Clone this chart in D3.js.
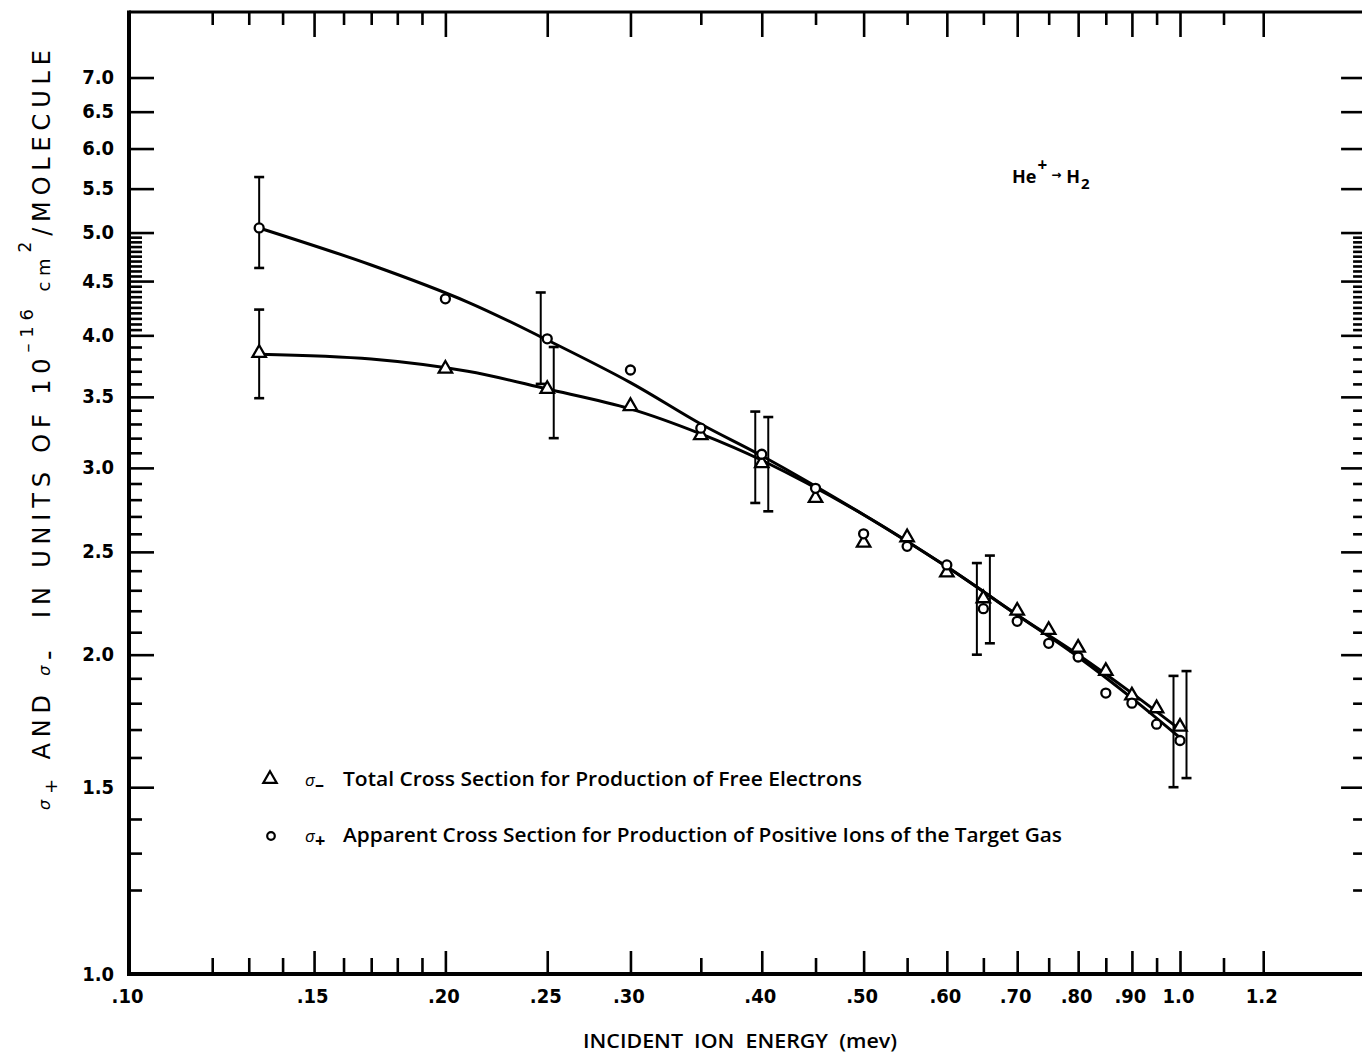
<!DOCTYPE html>
<html>
<head>
<meta charset="utf-8">
<script src="https://cdn.jsdelivr.net/npm/d3@7"></script>
<style>
  html, body { margin: 0; padding: 0; background: #fff; }
  svg { display: block; }
</style>
</head>
<body>
<svg id="chart" width="1362" height="1055"></svg>
<script>
// ---------------- DATA ----------------
const energy      = [0.133, 0.20, 0.25, 0.30, 0.35, 0.40, 0.45, 0.50, 0.55, 0.60, 0.65, 0.70, 0.75, 0.80, 0.85, 0.90, 0.95, 1.0];
const sigmaMinus  = [3.85, 3.72, 3.56, 3.43, 3.22, 3.03, 2.81, 2.55, 2.58, 2.39, 2.26, 2.20, 2.11, 2.03, 1.93, 1.83, 1.78, 1.71];
const sigmaPlus   = [5.05, 4.33, 3.97, 3.71, 3.27, 3.09, 2.87, 2.60, 2.53, 2.43, 2.21, 2.15, 2.05, 1.99, 1.84, 1.80, 1.72, 1.66];

const errEnergy    = [0.133, 0.25, 0.40, 0.65, 1.0];
const errPlusLow   = [4.63, 3.60, 2.78, 2.00, 1.50];
const errPlusHigh  = [5.64, 4.39, 3.39, 2.44, 1.91];
const errMinusLow  = [3.49, 3.20, 2.73, 2.05, 1.53];
const errMinusHigh = [4.23, 3.90, 3.35, 2.48, 1.93];

const curveEnergy = [0.133, 0.17, 0.21, 0.25, 0.30, 0.35, 0.40, 0.50, 0.60, 0.70, 0.80, 0.90, 1.0];
const curvePlus   = [5.05, 4.66, 4.30, 3.96, 3.61, 3.30, 3.08, 2.71, 2.42, 2.18, 1.99, 1.82, 1.67];
const curveMinus  = [3.84, 3.80, 3.70, 3.56, 3.41, 3.23, 3.05, 2.71, 2.42, 2.18, 2.00, 1.84, 1.70];

const xMajorTicks = [0.10, 0.15, 0.20, 0.25, 0.30, 0.40, 0.50, 0.60, 0.70, 0.80, 0.90, 1.0, 1.2];
const xTickLabels = [".10", ".15", ".20", ".25", ".30", ".40", ".50", ".60", ".70", ".80", ".90", "1.0", "1.2"];
const xMinorTicks = [0.12, 0.13, 0.14, 0.16, 0.17, 0.18, 0.19, 0.35, 0.45, 0.55, 0.65, 0.75, 0.85, 0.95, 1.1];

const yMajorTicks = [1.0, 1.5, 2.0, 2.5, 3.0, 3.5, 4.0, 4.5, 5.0, 5.5, 6.0, 6.5, 7.0];
const yTickLabels = ["1.0", "1.5", "2.0", "2.5", "3.0", "3.5", "4.0", "4.5", "5.0", "5.5", "6.0", "6.5", "7.0"];
const yMinorTicks = [1.2, 1.3, 1.4, 1.6, 1.7, 1.8, 1.9, 2.1, 2.2, 2.3, 2.4, 2.6, 2.7, 2.8, 2.9,
                     3.1, 3.2, 3.3, 3.4, 3.6, 3.7, 3.8, 3.9,
                     4.05, 4.1, 4.15, 4.2, 4.25, 4.3, 4.35, 4.4, 4.45, 4.55, 4.6, 4.65, 4.7, 4.75, 4.8, 4.85, 4.9, 4.95];

const legendLabels = ["Total Cross Section for Production of Free Electrons",
                      "Apparent Cross Section for Production of Positive Ions of the Target Gas"];

// ---------------- LAYOUT ----------------
const svg = d3.select("#chart");
const L = 129, T = 12, B = 974;
const x = d3.scaleLog().domain([0.1, 1.5]).range([L, L + 1051 * Math.log10(15)]);
const y = d3.scaleLog().domain([1, 8.07]).range([B, T]);
const R = x(1.5);

const tickFont = "'DejaVu Sans Condensed', 'DejaVu Sans', sans-serif";
const textFont = "'Open Sans', 'DejaVu Sans', sans-serif";
const NB = "\u00A0";

function styleAxis(g) {
  g.select(".domain").remove();
  g.selectAll(".tick line").attr("stroke", "#000").attr("stroke-width", 2.6);
  g.selectAll(".tick text").attr("fill", "#000").attr("font-family", tickFont)
    .attr("font-weight", "bold").attr("font-size", 20);
}

// bottom axis
svg.append("g").attr("transform", `translate(0,${B})`)
  .call(d3.axisBottom(x).tickValues(xMajorTicks).tickSize(-23).tickPadding(15)
    .tickFormat((d, i) => xTickLabels[i]))
  .call(styleAxis)
  .call(g => g.selectAll(".tick text").attr("dx", -2));
svg.append("g").attr("transform", `translate(0,${B})`)
  .call(d3.axisBottom(x).tickValues(xMinorTicks).tickSize(-16).tickFormat(""))
  .call(styleAxis);

// top axis
svg.append("g").attr("transform", `translate(0,${T})`)
  .call(d3.axisTop(x).tickValues(xMajorTicks.filter(v => v > 0.1)).tickSize(-25).tickFormat(""))
  .call(styleAxis);
svg.append("g").attr("transform", `translate(0,${T})`)
  .call(d3.axisTop(x).tickValues(xMinorTicks).tickSize(-13).tickFormat(""))
  .call(styleAxis);

// left axis
svg.append("g").attr("transform", `translate(${L},0)`)
  .call(d3.axisLeft(y).tickValues(yMajorTicks).tickSize(-25).tickPadding(15)
    .tickFormat((d, i) => yTickLabels[i]))
  .call(styleAxis)
  .call(g => g.selectAll(".tick text").attr("dy", "0.3em"));
svg.append("g").attr("transform", `translate(${L},0)`)
  .call(d3.axisLeft(y).tickValues(yMinorTicks).tickSize(-13).tickFormat(""))
  .call(styleAxis);

// right axis
svg.append("g").attr("transform", `translate(${R},0)`)
  .call(d3.axisRight(y).tickValues(yMajorTicks.filter(v => v > 1)).tickSize(-24).tickFormat(""))
  .call(styleAxis);
svg.append("g").attr("transform", `translate(${R},0)`)
  .call(d3.axisRight(y).tickValues(yMinorTicks).tickSize(-12).tickFormat(""))
  .call(styleAxis);

// frame
svg.append("line").attr("x1", L).attr("x2", R).attr("y1", T).attr("y2", T).attr("stroke", "#000").attr("stroke-width", 3.2);
svg.append("line").attr("x1", L).attr("x2", R).attr("y1", B).attr("y2", B).attr("stroke", "#000").attr("stroke-width", 4);
svg.append("line").attr("x1", L).attr("x2", L).attr("y1", T - 1.5).attr("y2", B + 2).attr("stroke", "#000").attr("stroke-width", 4);
svg.append("line").attr("x1", R).attr("x2", R).attr("y1", T).attr("y2", B).attr("stroke", "#000").attr("stroke-width", 4);

// curves
const line = d3.line().x(d => x(d[0])).y(d => y(d[1])).curve(d3.curveCatmullRom.alpha(0.5));
svg.append("path").datum(curveEnergy.map((e, i) => [e, curveMinus[i]]))
  .attr("d", line).attr("fill", "none").attr("stroke", "#000").attr("stroke-width", 3);
svg.append("path").datum(curveEnergy.map((e, i) => [e, curvePlus[i]]))
  .attr("d", line).attr("fill", "none").attr("stroke", "#000").attr("stroke-width", 3);

// error bars
const capW = 5;
function drawBar(e, lo, hi, dx) {
  const g = svg.append("g").attr("stroke", "#000").attr("stroke-width", 2);
  const xx = x(e) + dx;
  g.append("line").attr("x1", xx).attr("x2", xx).attr("y1", y(lo)).attr("y2", y(hi));
  g.append("line").attr("x1", xx - capW).attr("x2", xx + capW).attr("y1", y(lo)).attr("y2", y(lo)).attr("stroke-width", 2.6);
  g.append("line").attr("x1", xx - capW).attr("x2", xx + capW).attr("y1", y(hi)).attr("y2", y(hi)).attr("stroke-width", 2.6);
}
errEnergy.forEach((e, i) => {
  const overlap = errPlusLow[i] < errMinusHigh[i];
  const off = overlap ? 6.5 : 0;
  drawBar(e, errPlusLow[i], errPlusHigh[i], -off);
  drawBar(e, errMinusLow[i], errMinusHigh[i], off);
});

// markers
const tri = d3.symbol().type(d3.symbolTriangle).size(78);
svg.append("g").selectAll("path").data(energy.map((e, i) => [e, sigmaMinus[i]])).join("path")
  .attr("d", tri).attr("transform", d => `translate(${x(d[0])},${y(d[1])})`)
  .attr("fill", "#fff").attr("stroke", "#000").attr("stroke-width", 2.3);
svg.append("g").selectAll("circle").data(energy.map((e, i) => [e, sigmaPlus[i]])).join("circle")
  .attr("cx", d => x(d[0])).attr("cy", d => y(d[1])).attr("r", 4.5)
  .attr("fill", "#fff").attr("stroke", "#000").attr("stroke-width", 2.3);

// legend
svg.append("path").attr("d", tri).attr("transform", "translate(270,779)")
  .attr("fill", "#fff").attr("stroke", "#000").attr("stroke-width", 2.2);
svg.append("circle").attr("cx", 271).attr("cy", 836).attr("r", 3.8)
  .attr("fill", "#fff").attr("stroke", "#000").attr("stroke-width", 2.2);

function legendText(yb, sub, label, len) {
  const t = svg.append("text").attr("x", 305).attr("y", yb)
    .attr("font-family", textFont).attr("font-weight", 600).attr("font-size", 19).attr("fill", "#000");
  t.append("tspan").text("σ").attr("font-style", "italic").attr("font-weight", 400).attr("font-size", 17);
  t.append("tspan").text(sub).attr("dy", 5).attr("font-size", 18).attr("font-weight", 700);
  svg.append("text").attr("x", 343).attr("y", yb)
    .attr("font-family", textFont).attr("font-weight", 600).attr("font-size", 19).attr("fill", "#000")
    .attr("textLength", len).attr("lengthAdjust", "spacingAndGlyphs").text(label);
}
legendText(786, "–", legendLabels[0], 519);
legendText(842, "+", legendLabels[1], 719);

// reaction label
const rx = svg.append("text").attr("x", 1012).attr("y", 183)
  .attr("font-family", textFont).attr("font-weight", 700).attr("font-size", 18).attr("fill", "#000");
rx.append("tspan").text("He");
rx.append("tspan").text("+").attr("dy", -12).attr("font-size", 17).attr("dx", 1);
rx.append("tspan").text("→").attr("dy", 8).attr("dx", 4).attr("font-size", 12);
rx.append("tspan").text("H").attr("dy", 4).attr("dx", 5);
rx.append("tspan").text("2").attr("dy", 6).attr("dx", 1).attr("font-size", 15);

// x title
svg.append("text").attr("x", 583).attr("y", 1048)
  .attr("font-family", textFont).attr("font-weight", 600).attr("font-size", 20).attr("fill", "#000")
  .attr("textLength", 314).attr("lengthAdjust", "spacingAndGlyphs")
  .text(`INCIDENT${NB}${NB}ION${NB}${NB}ENERGY${NB}${NB}(mev)`);

// y title
const yt = svg.append("g").attr("transform", "translate(50,430) rotate(-90)")
  .append("text").attr("x", 0).attr("y", 0).attr("text-anchor", "middle")
  .attr("font-family", "'DejaVu Sans', sans-serif").attr("font-weight", 400).attr("font-size", 24).attr("fill", "#000")
  .attr("textLength", 760).attr("lengthAdjust", "spacing");
yt.append("tspan").text("σ").attr("font-style", "italic").attr("font-size", 16);
yt.append("tspan").text("+").attr("dy", 7).attr("font-size", 18);
yt.append("tspan").text(`${NB}AND${NB}`).attr("dy", -7);
yt.append("tspan").text("σ").attr("font-style", "italic").attr("font-size", 16);
yt.append("tspan").text("–").attr("dy", 5).attr("font-size", 18).attr("font-weight", 700);
yt.append("tspan").text(`${NB}${NB}IN${NB}UNITS${NB}OF${NB}10`).attr("dy", -5);
yt.append("tspan").text("–16").attr("dy", -17).attr("font-size", 18);
yt.append("tspan").text(`${NB}cm`).attr("dy", 17).attr("font-size", 18);
yt.append("tspan").text("2").attr("dy", -19).attr("font-size", 17);
yt.append("tspan").text("/MOLECULE").attr("dy", 19);
</script>
</body>
</html>
